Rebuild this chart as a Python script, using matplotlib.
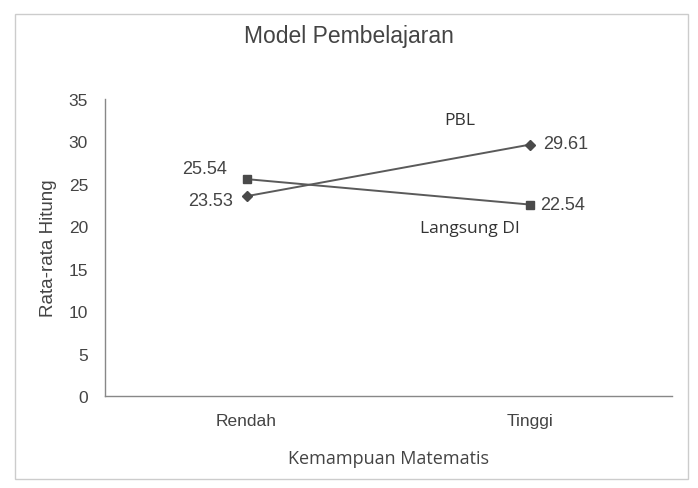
import matplotlib
matplotlib.use("Agg")
import matplotlib.pyplot as plt
from matplotlib.patches import Rectangle

categories = ["Rendah", "Tinggi"]
pbl = [23.53, 29.61]
langsung = [25.54, 22.54]
yticks = [0, 5, 10, 15, 20, 25, 30, 35]

fig = plt.figure(figsize=(6.98, 4.89), dpi=100)
fig.patch.set_facecolor("white")
ax = fig.add_axes([0.150, 0.188, 0.813, 0.608])

x = list(range(len(categories)))
ax.plot(x, langsung, color="#5a5a5a", lw=1.4, marker="s", ms=6, mfc="#4a4a4a", mec="#4a4a4a")
ax.plot(x, pbl, color="#5a5a5a", lw=1.4, marker="D", ms=5, mfc="#4a4a4a", mec="#4a4a4a")

ax.set_xlim(-0.5, 1.5)
ax.set_ylim(0, 35)
ax.set_yticks(yticks)
ax.set_xticks(x)
ax.set_xticklabels(categories)
for s in ["top", "right"]:
    ax.spines[s].set_visible(False)
for s in ["left", "bottom"]:
    ax.spines[s].set_color("#888888")
    ax.spines[s].set_linewidth(1.0)
ax.tick_params(axis="both", length=0, colors="#444444", labelsize=12.5)
ax.tick_params(axis="y", pad=12)
ax.tick_params(axis="x", pad=12)
for lab in ax.get_xticklabels() + ax.get_yticklabels():
    lab.set_family("Liberation Sans")

ax.set_ylabel("Rata-rata Hitung", family="Liberation Sans", fontsize=13.5, color="#444444", labelpad=8)
ax.set_xlabel("Kemampuan Matematis", family="Open Sans", fontsize=13, color="#444444", labelpad=15)
fig.text(0.5, 1 - 37 / 489, "Model Pembelajaran", ha="center", va="center", family="Liberation Sans",
         fontsize=16.5, color="#444444")

# data labels
lab_kw = dict(textcoords="offset points", va="center", family="Liberation Sans", fontsize=13, color="#444444")
ax.annotate(f"{langsung[0]:.2f}", (x[0], langsung[0]), xytext=(-14, 8), ha="right", **lab_kw)
ax.annotate(f"{pbl[0]:.2f}", (x[0], pbl[0]), xytext=(-10, -3), ha="right", **lab_kw)
ax.annotate(f"{pbl[1]:.2f}", (x[1], pbl[1]), xytext=(9, 1), ha="left", **lab_kw)
ax.annotate(f"{langsung[1]:.2f}", (x[1], langsung[1]), xytext=(7, 0), ha="left", **lab_kw)

# series labels
fig.text(460 / 698, 1 - 121 / 489, "PBL", ha="center", va="center", family="Open Sans",
         fontsize=12.5, color="#333333")
fig.text(470 / 698, 1 - 229 / 489, "Langsung DI", ha="center", va="center", family="Open Sans",
         fontsize=12.5, color="#333333")

# outer frame
fig.patches.append(Rectangle((15 / 698, 1 - 480 / 489), (688 - 15) / 698, (480 - 15) / 489,
                             transform=fig.transFigure, fill=False, ec="#cccccc", lw=1.0))

fig.savefig("out.png", dpi=100, facecolor="white")
